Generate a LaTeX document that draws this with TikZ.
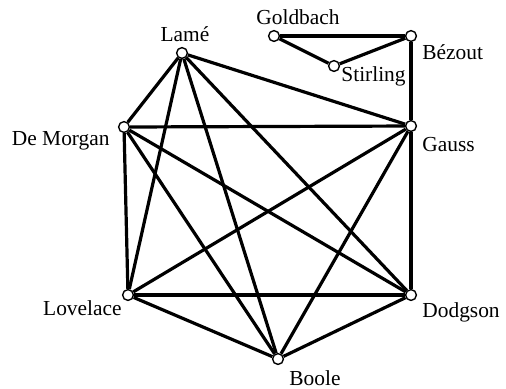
\documentclass[tikz,border=0pt]{standalone}
\usepackage{fontspec}
\setmainfont{Liberation Serif}
\usetikzlibrary{positioning}
\tikzset{
  vtx/.style={circle,draw,fill=white,line width=0.7pt,inner sep=0pt,minimum size=5.4pt},
  edge/.style={line width=1.6pt},
  lbl/.style={inner sep=0pt,font=\fontsize{10.7}{12}\selectfont}
}
\begin{document}
\begin{tikzpicture}[x=0.5pt,y=-0.5pt]
  \useasboundingbox (0,0) rectangle (506,388);
  % vertices
  \node[vtx] (goldbach) at (274,36) {};
  \node[vtx] (bezout) at (411,36) {};
  \node[vtx] (stirling) at (334,66) {};
  \node[vtx] (lame) at (182,53) {};
  \node[vtx] (demorgan) at (124,127) {};
  \node[vtx] (gauss) at (411,126) {};
  \node[vtx] (lovelace) at (128,295) {};
  \node[vtx] (dodgson) at (411,295) {};
  \node[vtx] (boole) at (278,359) {};
  % labels
  \node[lbl,anchor=base west] (lgoldbach) at (256,24) {Goldbach};
  \node[lbl,anchor=base west] (lbezout) at (422,59) {Bézout};
  \node[lbl,anchor=base west] (lstirling) at (341,81) {Stirling};
  \node[lbl,anchor=base] (llame) at (185,41) {Lamé};
  \node[lbl,anchor=base east] (ldemorgan) at (110,145) {De Morgan};
  \node[lbl,anchor=base west] (lgauss) at (422,151) {Gauss};
  \node[lbl,anchor=base east] (llovelace) at (122,315) {Lovelace};
  \node[lbl,anchor=base west] (ldodgson) at (422,317) {Dodgson};
  \node[lbl,anchor=base west] (lboole) at (289,385) {Boole};
  % small component
  \draw[edge] (goldbach) -- (bezout);
  \draw[edge] (goldbach) -- (stirling);
  \draw[edge] (stirling) -- (bezout);
  \draw[edge] (bezout) -- (gauss);
  % complete graph on the other six
  \foreach \a/\b in {lame/demorgan,lame/gauss,lame/lovelace,lame/dodgson,lame/boole,
                     demorgan/gauss,demorgan/lovelace,demorgan/dodgson,demorgan/boole,
                     gauss/lovelace,gauss/dodgson,gauss/boole,
                     lovelace/dodgson,lovelace/boole,dodgson/boole}
    \draw[edge] (\a) -- (\b);
\end{tikzpicture}
\end{document}
